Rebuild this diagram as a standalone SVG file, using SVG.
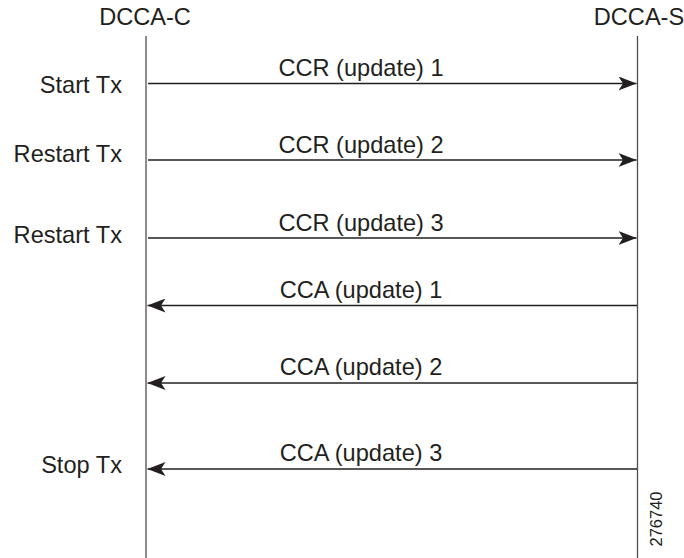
<svg xmlns="http://www.w3.org/2000/svg" width="684" height="558" viewBox="0 0 684 558">
<style>
text{font-family:"Liberation Sans",Arial,sans-serif;fill:#231f20;font-size:23.6px}
.lab{text-anchor:end}
.msg{text-anchor:middle}
.life{stroke:#4d4d4d;stroke-width:1.3;fill:none}
.arr{stroke:#231f20;stroke-width:1.3;fill:none}
</style>
<defs>
<marker id="ah" viewBox="0 0 18 14" refX="18" refY="7" markerWidth="18" markerHeight="14" markerUnits="userSpaceOnUse" orient="auto">
<path d="M0,0 L18,7 L0,14 L4.5,7 Z" fill="#231f20"/>
</marker>
</defs>
<rect width="684" height="558" fill="#fff"/>
<g id="dcca-c">
<text x="145" y="25" class="msg">DCCA-C</text>
<line x1="146" y1="36" x2="146" y2="558" class="life"/>
</g>
<g id="dcca-s">
<text x="639" y="25" class="msg">DCCA-S</text>
<line x1="637.5" y1="36" x2="637.5" y2="558" class="life"/>
</g>
<g id="labels">
<text x="122" y="93" class="lab">Start Tx</text>
<text x="122" y="162" class="lab">Restart Tx</text>
<text x="122" y="243" class="lab">Restart Tx</text>
<text x="122" y="473" class="lab">Stop Tx</text>
</g>
<g id="connectors">
<line x1="148" y1="83.5" x2="636.5" y2="83.5" class="arr" marker-end="url(#ah)"/>
<line x1="148" y1="160" x2="636.5" y2="160" class="arr" marker-end="url(#ah)"/>
<line x1="148" y1="238" x2="636.5" y2="238" class="arr" marker-end="url(#ah)"/>
<line x1="637" y1="305.5" x2="147.5" y2="305.5" class="arr" marker-end="url(#ah)"/>
<line x1="637" y1="383" x2="147.5" y2="383" class="arr" marker-end="url(#ah)"/>
<line x1="637" y1="469" x2="147.5" y2="469" class="arr" marker-end="url(#ah)"/>
<text x="361" y="76" class="msg">CCR (update) 1</text>
<text x="361" y="153" class="msg">CCR (update) 2</text>
<text x="361" y="231" class="msg">CCR (update) 3</text>
<text x="361" y="298" class="msg">CCA (update) 1</text>
<text x="361" y="375" class="msg">CCA (update) 2</text>
<text x="361" y="461" class="msg">CCA (update) 3</text>
</g>
<text x="662" y="519" transform="rotate(-90 662 519)" text-anchor="middle" style="font-size:16.5px">276740</text>
</svg>
